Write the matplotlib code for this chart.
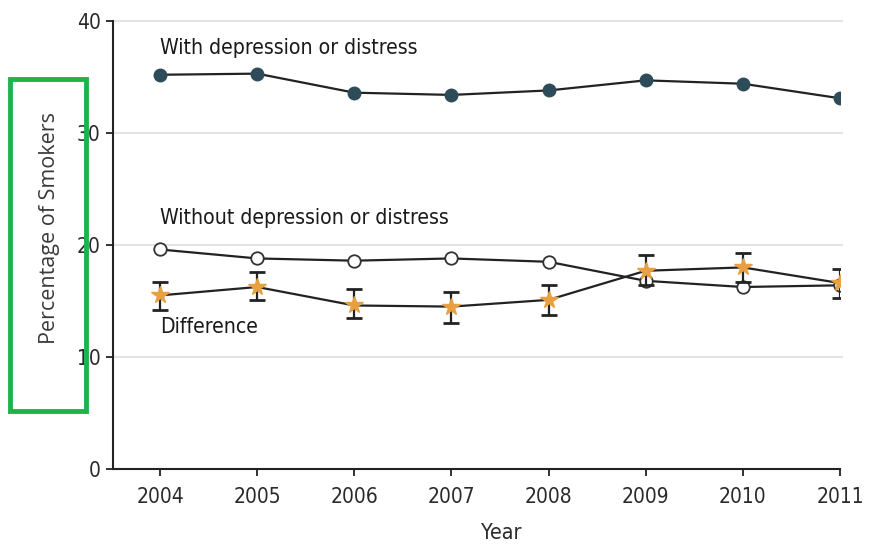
import matplotlib
matplotlib.use("Agg")
import matplotlib.pyplot as plt
from matplotlib.patches import Rectangle
import numpy as np

years = [2004, 2005, 2006, 2007, 2008, 2009, 2010, 2011]
with_dep = [35.2, 35.3, 33.6, 33.4, 33.8, 34.7, 34.4, 33.1]
without_dep = [19.6, 18.8, 18.6, 18.8, 18.5, 16.8, 16.25, 16.4]
difference = [15.5, 16.25, 14.6, 14.5, 15.1, 17.7, 18.0, 16.6]
diff_low = [14.2, 15.1, 13.5, 13.0, 13.75, 16.4, 16.7, 15.3]
diff_high = [16.7, 17.6, 16.1, 15.8, 16.4, 19.1, 19.3, 17.9]
yticks = [0, 10, 20, 30, 40]

narrow = dict(family=['DejaVu Sans'], stretch='condensed')

fig = plt.figure(figsize=(8.69, 5.45), dpi=100)
ax = fig.add_axes([113/869, 1-469/545, (840-113)/869, (469-21)/545])

ax.set_xlim(2003.516, 2011.0)
ax.set_ylim(0, 40)

for y in [10, 20, 30, 40]:
    ax.axhline(y, color='#e3e3e3', lw=1.5, zorder=0, xmax=1.003, clip_on=False)

ax.plot(years, with_dep, color='#222222', lw=1.6, marker='o', ms=9,
        mfc='#2d4b59', mec='#2d4b59', zorder=3)
ax.plot(years, without_dep, color='#222222', lw=1.6, marker='o', ms=9,
        mfc='white', mec='#333333', mew=1.3, zorder=3)
d = np.array(difference)
err = [d - np.array(diff_low), np.array(diff_high) - d]
ax.errorbar(years, difference, yerr=err, color='#222222', lw=1.6,
            ecolor='#222222', elinewidth=1.6, capsize=6, capthick=2,
            marker='*', ms=13, mfc='#e8a040', mec='#e8a040', zorder=4)

ax.text(2004.0, 37.6, 'With depression or distress', fontsize=15.2,
        color='#1a1a1a', ha='left', va='center', **narrow)
ax.text(2004.0, 22.4, 'Without depression or distress', fontsize=15.2,
        color='#1a1a1a', ha='left', va='center', **narrow)
ax.text(2004.0, 12.7, 'Difference', fontsize=15.2,
        color='#1a1a1a', ha='left', va='center', **narrow)

for s in ['top', 'right']:
    ax.spines[s].set_visible(False)
for s in ['left', 'bottom']:
    ax.spines[s].set_linewidth(1.5)
    ax.spines[s].set_color('#222222')

ax.set_xticks(years)
ax.set_xticklabels([str(y) for y in years], fontsize=15, color='#2a2a2a', **narrow)
ax.set_yticks(yticks)
ax.set_yticklabels([str(y) for y in yticks], fontsize=15, color='#2a2a2a', **narrow)
ax.tick_params(axis='both', direction='out', length=5, width=1.3, color='#222222')
ax.tick_params(axis='x', pad=8)
ax.tick_params(axis='y', pad=4)

ax.set_xlabel('Year', fontsize=15.5, color='#2a2a2a', **narrow)
ax.xaxis.set_label_coords((501-113)/727, -(533-469)/448)
ax.xaxis.label.set_va('center')
fig.text(50/869, 1-228/545, 'Percentage of Smokers', rotation=90, fontfamily='Open Sans',
         fontsize=15.5, color='#3a3a3a', ha='center', va='center')

fig.patches.append(Rectangle((10/869, 1-411/545), 76/869, 332/545, transform=fig.transFigure,
                             fill=False, edgecolor='#1db34a', lw=3.5))

fig.savefig('out.png', dpi=100)
